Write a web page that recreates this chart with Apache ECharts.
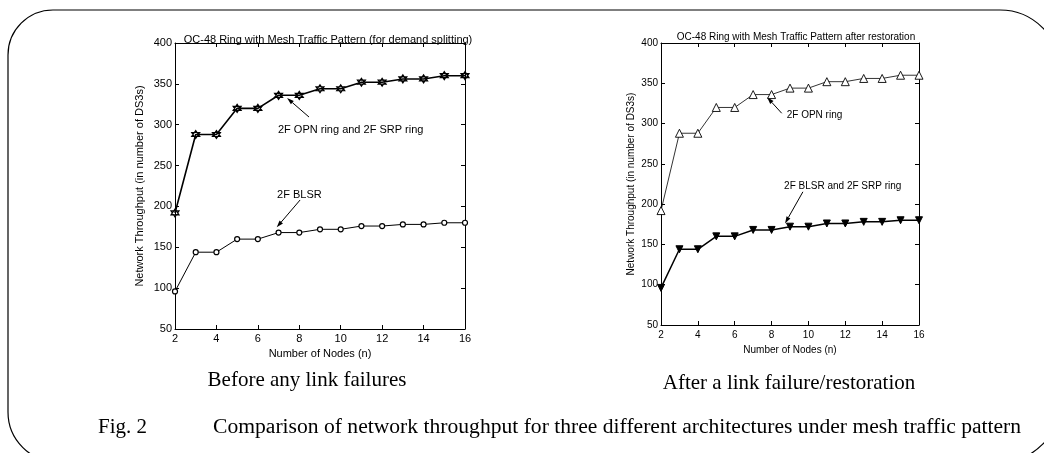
<!DOCTYPE html>
<html><head><meta charset="utf-8">
<script src="https://cdn.jsdelivr.net/npm/echarts@6/dist/echarts.min.js"></script>
<style>html,body{margin:0;padding:0;background:#fff}#c{width:1044px;height:453px}</style>
</head><body><div id="c"></div>
<script>
// ---- data ----
const nodes = [2,3,4,5,6,7,8,9,10,11,12,13,14,15,16];
const beforeOpnSrp = [192,288,288,320,320,336,336,344,344,352,352,356,356,360,360];
const beforeBlsr   = [96,144,144,160,160,168,168,172,172,176,176,178,178,180,180];
const afterOpn     = [192,288,288,320,320,336,336,344,344,352,352,356,356,360,360];
const afterBlsrSrp = [96,144,144,160,160,168,168,172,172,176,176,178,178,180,180];
const xTickValues = [2,4,6,8,10,12,14,16];
const yTickValues = [50,100,150,200,250,300,350,400];
const leftTitle  = 'OC-48 Ring with Mesh Traffic Pattern (for demand splitting)';
const rightTitle = 'OC-48 Ring with Mesh Traffic Pattern after restoration';
const yName = 'Network Throughput (in number of DS3s)';
const xName = 'Number of Nodes (n)';
const leftCaption = 'Before any link failures';
const rightCaption = 'After a link failure/restoration';
const figLabel = 'Fig. 2';
const figCaption = 'Comparison of network throughput for three different architectures under mesh traffic pattern';
// annotations in data space: [text, textAnchor, arrowFrom, arrowTip]
const leftNotes = [
  ['2F OPN ring and 2F SRP ring', [6.97, 293.5], [8.47, 309.4], [7.41, 332.7]],
  ['2F BLSR', [6.93, 214], [8.04, 207.9], [6.91, 174.4]]
];
const rightNotes = [
  ['2F OPN ring', [8.82, 310.4], [8.55, 312.8], [7.76, 332.7]],
  ['2F BLSR and 2F SRP ring', [8.68, 222.3], [9.70, 215.3], [8.73, 176.1]]
];

const pairs = v => nodes.map((n, i) => [n, v[i]]);
const SANS = 'Liberation Sans, Arial, sans-serif';
const SERIF = 'Liberation Serif, Times New Roman, serif';
const xMin = xTickValues[0], xMax = xTickValues[xTickValues.length-1];
const xInt = xTickValues[1]-xTickValues[0];
const yMin = yTickValues[0], yMax = yTickValues[yTickValues.length-1];
const yInt = yTickValues[1]-yTickValues[0];

function axes(gi, fs, lblMargin, xGap, yGap) {
  const line = {show:true, lineStyle:{color:'#000', width:1}};
  const tick = {show:true, inside:true, length:4, lineStyle:{color:'#000'}};
  const lab = {color:'#000', fontSize:fs, fontFamily:SANS};
  return {
    x: [
      {type:'value', gridIndex:gi, position:'bottom', min:xMin, max:xMax, interval:xInt,
       axisLine:line, axisTick:tick, splitLine:{show:false},
       axisLabel:Object.assign({margin:lblMargin}, lab),
       name:xName, nameLocation:'middle', nameGap:xGap, nameTextStyle:lab},
      {type:'value', gridIndex:gi, position:'top', min:xMin, max:xMax, interval:xInt,
       axisLine:line, axisTick:tick, splitLine:{show:false}, axisLabel:{show:false}}
    ],
    y: [
      {type:'value', gridIndex:gi, position:'left', min:yMin, max:yMax, interval:yInt,
       axisLine:line, axisTick:tick, splitLine:{show:false},
       axisLabel:Object.assign({margin:3}, lab),
       name:yName, nameLocation:'middle', nameGap:yGap, nameRotate:90, nameTextStyle:lab},
      {type:'value', gridIndex:gi, position:'right', min:yMin, max:yMax, interval:yInt,
       axisLine:line, axisTick:tick, splitLine:{show:false}, axisLabel:{show:false}}
    ]
  };
}
const A0 = axes(0, 11, 4, 17, 30);
const A1 = axes(1, 10, 5, 19, 25);

const hexagram = 'path://M0,-10L8.66,5L-8.66,5Z M0,10L8.66,-5L-8.66,-5Z';

const chart = echarts.init(document.getElementById('c'), null, {renderer:'canvas'});
chart.setOption({
  animation:false,
  backgroundColor:'#fff',
  grid:[
    {left:175, top:43, width:290, height:286},
    {left:661, top:43, width:258, height:282}
  ],
  xAxis:[...A0.x, ...A1.x],
  yAxis:[...A0.y, ...A1.y],
  title:[
    {text:leftTitle, left:323, top:29, textAlign:'center',
     textStyle:{fontSize:11, fontWeight:'normal', color:'#000', fontFamily:SANS}},
    {text:rightTitle, left:791, top:27, textAlign:'center',
     textStyle:{fontSize:10, fontWeight:'normal', color:'#000', fontFamily:SANS}}
  ],
  series:[
    {type:'line', xAxisIndex:0, yAxisIndex:0, data:pairs(beforeOpnSrp),
     symbol:hexagram, symbolSize:8, lineStyle:{color:'#000', width:1.6},
     itemStyle:{color:'#fff', borderColor:'#000', borderWidth:1.2}},
    {type:'line', xAxisIndex:0, yAxisIndex:0, data:pairs(beforeBlsr),
     symbol:'circle', symbolSize:5, lineStyle:{color:'#000', width:1},
     itemStyle:{color:'#fff', borderColor:'#000', borderWidth:1.2}},
    {type:'line', xAxisIndex:2, yAxisIndex:2, data:pairs(afterOpn),
     symbol:'triangle', symbolSize:8, lineStyle:{color:'#000', width:0.8},
     itemStyle:{color:'#fff', borderColor:'#000', borderWidth:0.9}},
    {type:'line', xAxisIndex:2, yAxisIndex:2, data:pairs(afterBlsrSrp),
     symbol:'triangle', symbolRotate:180, symbolSize:7, lineStyle:{color:'#000', width:1.5},
     itemStyle:{color:'#000', borderColor:'#000', borderWidth:1}}
  ]
});

function noteGraphics(notes, xi, yi, fs) {
  const out = [];
  notes.forEach(([txt, at, from, tip]) => {
    const p = chart.convertToPixel({xAxisIndex:xi, yAxisIndex:yi}, at);
    const a = chart.convertToPixel({xAxisIndex:xi, yAxisIndex:yi}, from);
    const b = chart.convertToPixel({xAxisIndex:xi, yAxisIndex:yi}, tip);
    out.push({type:'text', style:{text:txt, x:p[0], y:p[1], textAlign:'left', textVerticalAlign:'middle',
      font: fs + 'px ' + SANS, fill:'#000'}});
    const dx = b[0]-a[0], dy = b[1]-a[1], L = Math.hypot(dx, dy), ux = dx/L, uy = dy/L;
    const hl = 7, hw = 2.2;
    const bx = b[0]-ux*hl, by = b[1]-uy*hl;
    out.push({type:'line', shape:{x1:a[0], y1:a[1], x2:bx, y2:by}, style:{stroke:'#000', lineWidth:1}});
    out.push({type:'polygon', shape:{points:[[b[0],b[1]],[bx-uy*hw,by+ux*hw],[bx+uy*hw,by-ux*hw]]},
      style:{fill:'#000'}});
  });
  return out;
}

const g = [
  {type:'rect', shape:{x:8, y:10, width:1052, height:452, r:[45,60,60,50]},
   style:{fill:'none', stroke:'#000', lineWidth:1.2}, z:-1},
  {type:'text', style:{text:leftCaption, x:307, y:380, textAlign:'center', textVerticalAlign:'middle',
    font:'21px ' + SERIF, fill:'#000'}},
  {type:'text', style:{text:rightCaption, x:789, y:383, textAlign:'center', textVerticalAlign:'middle',
    font:'21px ' + SERIF, fill:'#000'}},
  {type:'text', style:{text:figLabel, x:98, y:427, textAlign:'left', textVerticalAlign:'middle',
    font:'21px ' + SERIF, fill:'#000'}},
  {type:'text', style:{text:figCaption, x:213, y:427, textAlign:'left', textVerticalAlign:'middle',
    font:'21.6px ' + SERIF, fill:'#000'}}
].concat(noteGraphics(leftNotes, 0, 0, 11), noteGraphics(rightNotes, 2, 2, 10));

chart.setOption({graphic:{elements:g}});
</script></body></html>
